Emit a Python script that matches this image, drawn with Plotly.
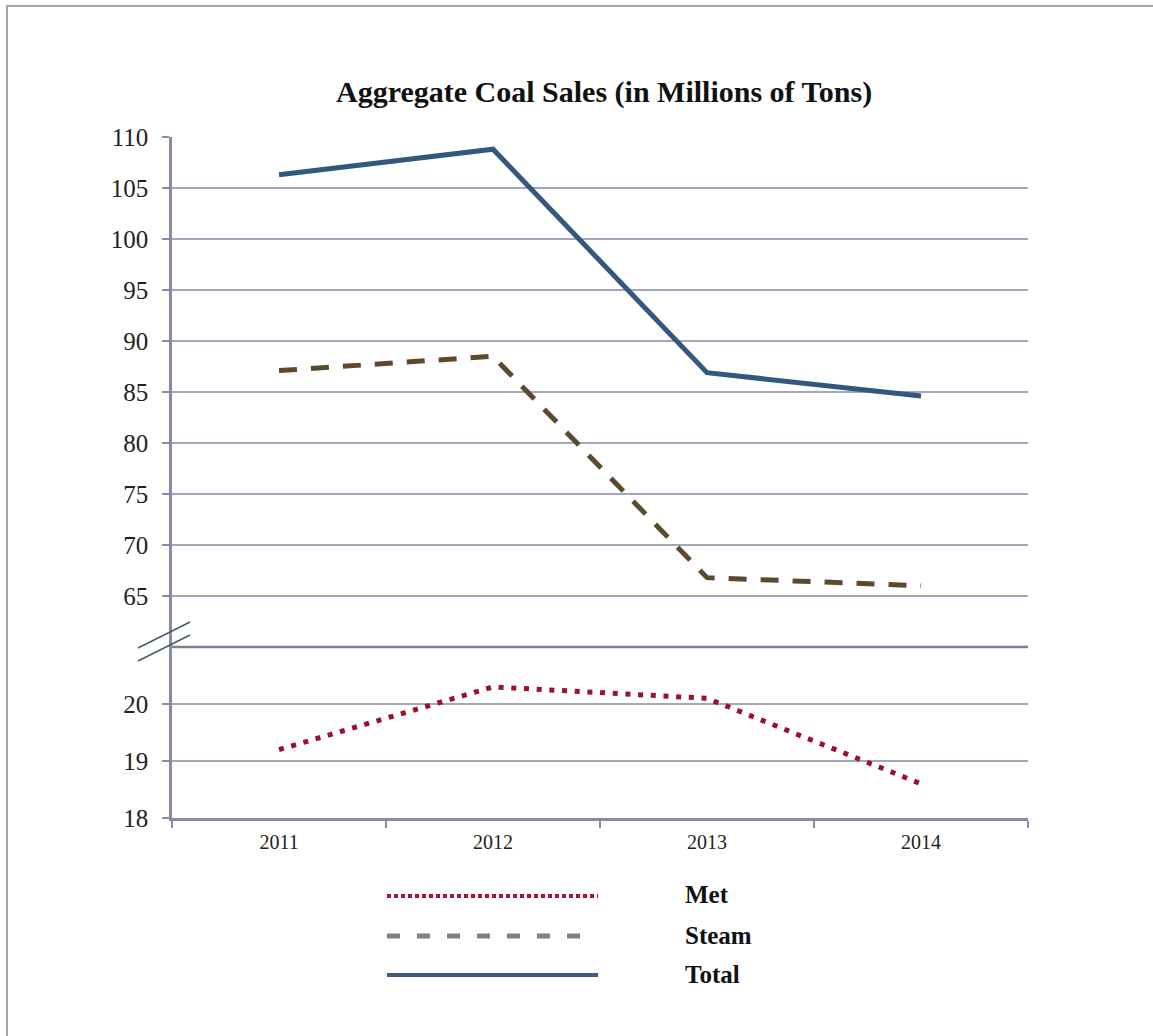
import plotly.graph_objects as go

# ---- data ----
years = ["2011", "2012", "2013", "2014"]
total = [106.3, 108.8, 86.9, 84.6]
steam = [87.1, 88.5, 66.8, 66.0]
met = [19.2, 20.3, 20.1, 18.6]
upper_ticks = [65, 70, 75, 80, 85, 90, 95, 100, 105, 110]
lower_ticks = [18, 19, 20]

W, H = 1153, 1036
ML, MR, MT, MB = 172, 125, 137, 218
PW, PH = W - ML - MR, H - MT - MB
SPLIT = (818 - 647) / PH  # fraction of plot height given to the lower panel


def px(x):
    return (x - ML) / PW


def py(y):
    return (H - MB - y) / PH


SERIF = "Liberation Serif, Times New Roman, serif"
AXIS_COL = "#878ba4"
GRID_COL = "#a3a7bb"

fig = go.Figure()
fig.add_trace(go.Scatter(x=years, y=total, xaxis="x2", yaxis="y2", mode="lines",
                         line=dict(color="#33587f", width=5), name="Total"))
fig.add_trace(go.Scatter(x=years, y=steam, xaxis="x2", yaxis="y2", mode="lines",
                         line=dict(color="#5c4a2e", width=5, dash="18px,14px"), name="Steam"))
fig.add_trace(go.Scatter(x=years, y=met, xaxis="x", yaxis="y", mode="lines",
                         line=dict(color="#9b0f30", width=5, dash="5px,7.7px"), name="Met"))

shapes = []
# panel separator at the axis break
shapes.append(dict(type="line", xref="paper", yref="paper", x0=0, x1=1, y0=SPLIT, y1=SPLIT,
                   line=dict(color="#7d8092", width=2.5)))
# break marks on the value axis
for dy in (0, 13):
    shapes.append(dict(type="line", xref="paper", yref="paper",
                       x0=px(138), y0=py(648 + dy), x1=px(190), y1=py(622 + dy),
                       line=dict(color="#4a5a78", width=1.8)))
# outer frame
shapes.append(dict(type="rect", xref="paper", yref="paper",
                   x0=px(7), y0=py(1060), x1=px(1180), y1=py(6),
                   line=dict(color="#a6a6a6", width=2), fillcolor="rgba(0,0,0,0)", layer="below"))
# legend samples
shapes.append(dict(type="line", xref="paper", yref="paper", x0=px(387), x1=px(598),
                   y0=py(896), y1=py(896), line=dict(color="#b0102a", width=4, dash="4px,3px")))
shapes.append(dict(type="line", xref="paper", yref="paper", x0=px(387), x1=px(589),
                   y0=py(936), y1=py(936), line=dict(color="#808080", width=5, dash="13px,17px")))
shapes.append(dict(type="line", xref="paper", yref="paper", x0=px(387), x1=px(598),
                   y0=py(975), y1=py(975), line=dict(color="#3f5b82", width=4)))

annotations = [
    dict(text="<b>Aggregate Coal Sales (in Millions of Tons)</b>", xref="paper", yref="paper",
         x=px(604), y=py(92), showarrow=False, xanchor="center", yanchor="middle",
         font=dict(family=SERIF, size=30, color="#111111")),
]
for label, yy in (("Met", 894), ("Steam", 935), ("Total", 974)):
    annotations.append(dict(text=f"<b>{label}</b>", xref="paper", yref="paper",
                            x=px(683), y=py(yy), showarrow=False, xanchor="left",
                            yanchor="middle", font=dict(family=SERIF, size=25, color="#111111")))

fig.update_layout(
    width=W, height=H,
    margin=dict(l=ML, r=MR, t=MT, b=MB),
    paper_bgcolor="white", plot_bgcolor="white",
    showlegend=False,
    shapes=shapes,
    annotations=annotations,
    xaxis=dict(domain=[0, 1], anchor="y", type="category", categoryorder="array",
               categoryarray=years, range=[-0.5, 3.5], tickson="boundaries",
               ticks="outside", ticklen=7, tickcolor=AXIS_COL, tickwidth=1.5,
               showline=True, linecolor=AXIS_COL, linewidth=2.5, showgrid=False,
               tickfont=dict(family=SERIF, size=20, color="#222222"), ticklabelstandoff=4),
    xaxis2=dict(domain=[0, 1], anchor="y2", matches="x", type="category",
                categoryorder="array", categoryarray=years,
                showticklabels=False, ticks="", showline=False, showgrid=False),
    yaxis=dict(domain=[0, SPLIT], anchor="x", range=[18, 21], tickvals=lower_ticks,
               ticks="outside", ticklen=7, tickcolor=AXIS_COL, tickwidth=1.5,
               showline=True, linecolor=AXIS_COL, linewidth=2.5,
               showgrid=True, gridcolor=GRID_COL, gridwidth=1.5, zeroline=False,
               tickfont=dict(family=SERIF, size=25, color="#222222"), ticklabelstandoff=9),
    yaxis2=dict(domain=[SPLIT, 1], anchor="x2", range=[60, 110], tickvals=upper_ticks,
                ticks="outside", ticklen=7, tickcolor=AXIS_COL, tickwidth=1.5,
                showline=True, linecolor=AXIS_COL, linewidth=2.5,
                showgrid=True, gridcolor=GRID_COL, gridwidth=1.5, zeroline=False,
                tickfont=dict(family=SERIF, size=25, color="#222222"), ticklabelstandoff=9),
)

fig.write_html("out.html")
